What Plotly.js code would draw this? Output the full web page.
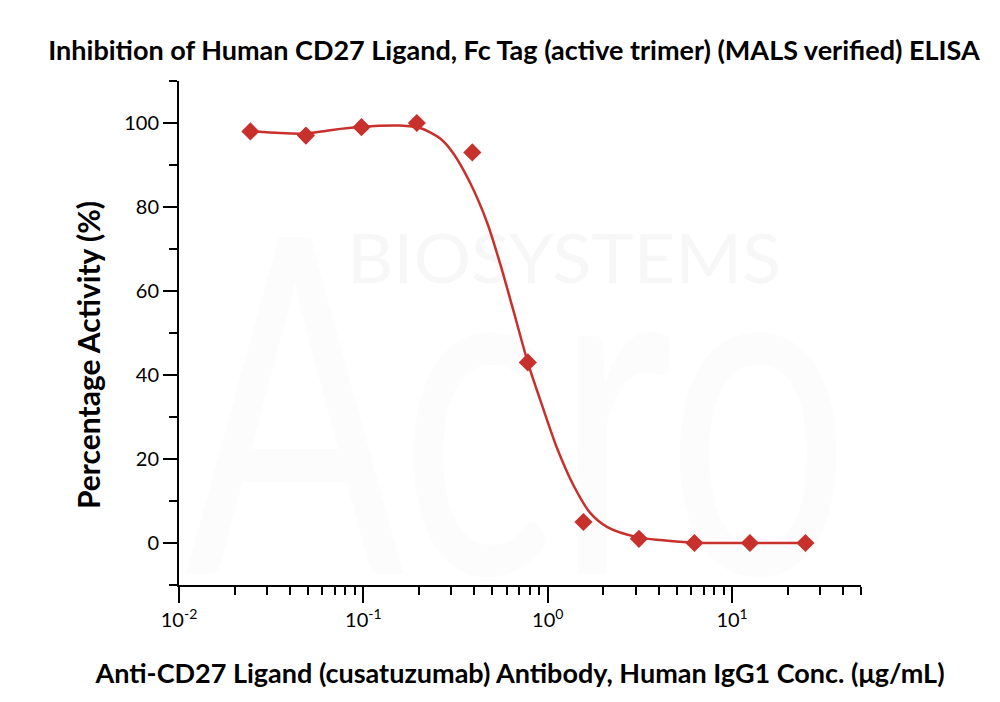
<!DOCTYPE html>
<html>
<head>
<meta charset="utf-8">
<script src="https://cdn.plot.ly/plotly-3.0.1.min.js"></script>
<style>html,body{margin:0;padding:0;background:#fff;}#chart{width:1000px;height:702px;}</style>
</head>
<body>
<div id="chart"></div>
<script>
// Measured points: concentration (µg/mL) and percentage activity (%)
const concentration = [0.0244, 0.0488, 0.0977, 0.195, 0.39, 0.78, 1.5625, 3.125, 6.25, 12.5, 25];
const activity = [98, 97, 99, 100, 93, 43, 5, 1, 0, 0, 0];

// Fitted curve
const fitConc = [0.0243, 0.0353, 0.0489, 0.0661, 0.0973, 0.158, 0.2034, 0.2612, 0.3073, 0.380, 0.470, 0.553, 0.650, 0.785, 0.912, 1.123, 1.377, 1.704, 2.107, 3.064, 4.09, 6.33, 12.6, 25.0];
const fitActivity = [98.1, 97.6, 97.5, 98.3, 99.1, 99.4, 98.8, 96.3, 92.8, 85.7, 76.2, 66.4, 55.5, 42.6, 34.0, 22.6, 13.8, 7.1, 3.8, 1.4, 0.7, 0.07, 0.02, 0];

const xTickVals = [0.01, 0.1, 1, 10];
const xTickText = ['10<sup>-2</sup>', '10<sup>-1</sup>', '10<sup>0</sup>', '10<sup>1</sup>'];
const yTickVals = [0, 20, 40, 60, 80, 100];

const red = '#c8302c';
const font = 'Lato, "Open Sans", sans-serif';

const xMinor = [];
[0.01, 0.1, 1, 10].forEach(d => { for (let k = 2; k <= 9; k++) { const v = d * k; if (v <= 50.001) xMinor.push(v); } });

// faint watermark drawn beneath the plot
const wm = '<svg xmlns="http://www.w3.org/2000/svg" width="682" height="504" viewBox="0 0 682 504">' +
  '<text x="6" y="493" font-family="Lato, Open Sans, sans-serif" font-size="470" fill="#fcfcfc" textLength="665" lengthAdjust="spacingAndGlyphs">Acro</text>' +
  '<text x="168" y="202" font-family="Lato, Open Sans, sans-serif" font-size="68" fill="#f7f7f7" textLength="434" lengthAdjust="spacingAndGlyphs">BIOSYSTEMS</text>' +
  '</svg>';
const wmSrc = 'data:image/svg+xml;charset=utf-8,' + encodeURIComponent(wm);

const traces = [
  {x: fitConc, y: fitActivity, type: 'scatter', mode: 'lines',
   line: {color: red, width: 2.5, shape: 'spline', smoothing: 0.8}, hoverinfo: 'skip', showlegend: false},
  {x: concentration, y: activity, type: 'scatter', mode: 'markers',
   marker: {symbol: 'diamond', size: 14, color: red}, showlegend: false}
];

const layout = {
  width: 1000, height: 702,
  margin: {l: 179, r: 139, t: 81, b: 117},
  paper_bgcolor: '#fff', plot_bgcolor: 'rgba(0,0,0,0)',
  font: {family: font, color: '#000'},
  title: {text: '<b>Inhibition of Human CD27 Ligand, Fc Tag (active trimer) (MALS verified) ELISA</b>',
          font: {size: 27, family: font, color: '#000'}, x: 0.514, xanchor: 'center', y: 0.928, yanchor: 'middle'},
  xaxis: {
    type: 'log', range: [-2, Math.log10(50) + 0.0005],
    tickmode: 'array', tickvals: xTickVals, ticktext: xTickText,
    ticks: 'outside', ticklen: 16, tickwidth: 2, tickcolor: '#000',
    minor: {tickmode: 'array', tickvals: xMinor, ticks: 'outside', ticklen: 8, tickwidth: 2, tickcolor: '#000', showgrid: false},
    showline: true, linecolor: '#000', linewidth: 2, showgrid: false, zeroline: false,
    tickfont: {size: 20, family: font},
    title: {text: '<b>Anti-CD27 Ligand (cusatuzumab) Antibody, Human IgG1 Conc. (μg/mL)</b>', font: {size: 27, family: font}, standoff: 34}
  },
  yaxis: {
    range: [-10, 110],
    tickmode: 'array', tickvals: yTickVals,
    ticks: 'outside', ticklen: 14, tickwidth: 2, tickcolor: '#000',
    minor: {tickmode: 'linear', tick0: -10, dtick: 20, ticks: 'outside', ticklen: 8, tickwidth: 2, tickcolor: '#000', showgrid: false},
    showline: true, linecolor: '#000', linewidth: 2, showgrid: false, zeroline: false,
    tickfont: {size: 20, family: font}
  },
  annotations: [
    {text: '<b>Percentage Activity (%)</b>', textangle: -90, xref: 'paper', yref: 'paper',
     x: -0.1334, y: 0.4563, xanchor: 'center', yanchor: 'middle', showarrow: false,
     font: {size: 30, family: font, color: '#000'}}
  ],
  images: [{source: wmSrc, xref: 'paper', yref: 'paper', x: 0, y: 1, sizex: 1, sizey: 1,
            xanchor: 'left', yanchor: 'top', sizing: 'stretch', layer: 'below'}]
};

Plotly.newPlot('chart', traces, layout, {displayModeBar: false, staticPlot: true});
</script>
</body>
</html>
